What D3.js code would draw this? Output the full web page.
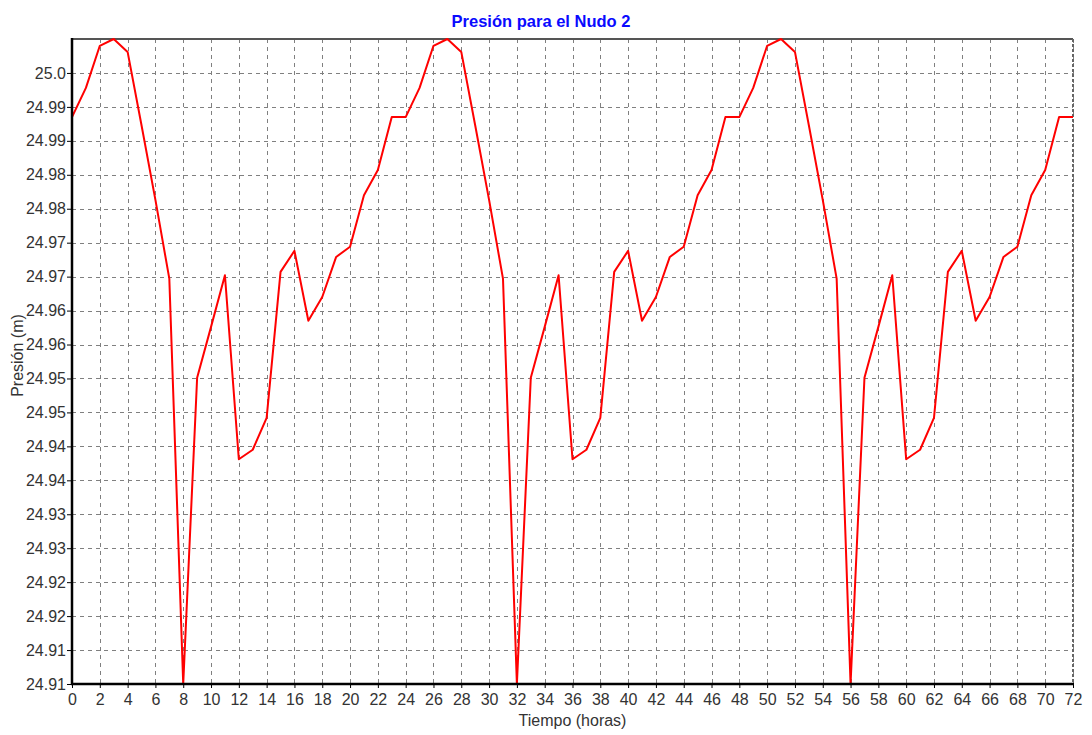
<!DOCTYPE html>
<html>
<head>
<meta charset="utf-8">
<script src="https://cdn.jsdelivr.net/npm/d3@7"></script>
<style>
  html, body { margin: 0; padding: 0; background: #fff; }
  svg { display: block; font-family: "Liberation Sans", Arial, sans-serif; }
</style>
</head>
<body>
<svg id="chart" width="1092" height="735"></svg>
<script>
const title = "Presión para el Nudo 2";
const xTitle = "Tiempo (horas)";
const yTitle = "Presión (m)";

const hours = [0,1,2,3,4,5,6,7,8,9,10,11,12,13,14,15,16,17,18,19,20,21,22,23,24,
  25,26,27,28,29,30,31,32,33,34,35,36,37,38,39,40,41,42,43,44,45,46,47,48,
  49,50,51,52,53,54,55,56,57,58,59,60,61,62,63,64,65,66,67,68,69,70,71,72];

const pressure = [
  24.9935, 24.9978, 25.0040, 25.0050, 25.0031, 24.9923, 24.9813, 24.9697, 24.9100,
  24.9551, 24.9626, 24.9702, 24.9431, 24.9445, 24.9492, 24.9707, 24.9738, 24.9635,
  24.9670, 24.9729, 24.9744, 24.9820, 24.9857, 24.9935,
  24.9935, 24.9978, 25.0040, 25.0050, 25.0031, 24.9923, 24.9813, 24.9697, 24.9100,
  24.9551, 24.9626, 24.9702, 24.9431, 24.9445, 24.9492, 24.9707, 24.9738, 24.9635,
  24.9670, 24.9729, 24.9744, 24.9820, 24.9857, 24.9935,
  24.9935, 24.9978, 25.0040, 25.0050, 25.0031, 24.9923, 24.9813, 24.9697, 24.9100,
  24.9551, 24.9626, 24.9702, 24.9431, 24.9445, 24.9492, 24.9707, 24.9738, 24.9635,
  24.9670, 24.9729, 24.9744, 24.9820, 24.9857, 24.9935,
  24.9935
];

const xTicks = [0,2,4,6,8,10,12,14,16,18,20,22,24,26,28,30,32,34,36,38,40,42,44,46,48,50,52,54,56,58,60,62,64,66,68,70,72];
const yTicks = [24.910,24.915,24.920,24.925,24.930,24.935,24.940,24.945,24.950,24.955,24.960,24.965,24.970,24.975,24.980,24.985,24.990,24.995,25.000];
const yTickLabels = ["24.91","24.91","24.92","24.92","24.93","24.93","24.94","24.94","24.95","24.95","24.96","24.96","24.97","24.97","24.98","24.98","24.99","24.99","25.0"];
const xDomain = [0, 72];
const yDomain = [24.910, 25.005];

const svg = d3.select("#chart");
const W = 1092, H = 735;
const margin = { left: 72, right: 19, top: 39, bottom: 51 };
const pw = W - margin.left - margin.right;
const ph = H - margin.top - margin.bottom;

const x = d3.scaleLinear().domain(xDomain).range([margin.left, margin.left + pw]);
const y = d3.scaleLinear().domain(yDomain).range([margin.top + ph, margin.top]);

// Grid
const grid = svg.append("g").attr("stroke", "#808080").attr("stroke-width", 1)
  .attr("stroke-dasharray", "4,4").attr("shape-rendering", "crispEdges");
grid.selectAll("line.h").data(yTicks).join("line")
  .attr("x1", margin.left).attr("x2", margin.left + pw)
  .attr("y1", d => Math.round(y(d)) + 0.5).attr("y2", d => Math.round(y(d)) + 0.5);
grid.selectAll("line.v").data(xTicks).join("line")
  .attr("y1", margin.top).attr("y2", margin.top + ph)
  .attr("x1", d => Math.round(x(d)) + 0.5).attr("x2", d => Math.round(x(d)) + 0.5);

// top and right frame
svg.append("line").attr("x1", margin.left).attr("x2", margin.left + pw)
  .attr("y1", margin.top).attr("y2", margin.top)
  .attr("stroke", "#555").attr("stroke-width", 2);
svg.append("line").attr("x1", margin.left + pw).attr("x2", margin.left + pw)
  .attr("y1", margin.top).attr("y2", margin.top + ph)
  .attr("stroke", "#666").attr("stroke-width", 2).attr("stroke-dasharray", "3,2");

// y-axis title (drawn behind tick labels)
svg.append("text")
  .attr("transform", `translate(23, ${margin.top + ph / 2 - 6}) rotate(-90)`)
  .attr("text-anchor", "middle")
  .attr("font-size", 16).attr("fill", "#333")
  .text(yTitle);

// Line
svg.append("clipPath").attr("id", "clip").append("rect")
  .attr("x", margin.left).attr("y", margin.top - 2).attr("width", pw).attr("height", ph + 2);
const line = d3.line().x((d, i) => x(hours[i])).y(d => y(d));
svg.append("path").datum(pressure)
  .attr("clip-path", "url(#clip)")
  .attr("fill", "none").attr("stroke", "#ff0000").attr("stroke-width", 2)
  .attr("stroke-linejoin", "round")
  .attr("d", line);

// Axes
const yAxis = d3.axisLeft(y).tickValues(yTicks)
  .tickFormat((d, i) => yTickLabels[i]).tickSize(5).tickPadding(1);
const gy = svg.append("g").attr("transform", `translate(${margin.left},0)`).call(yAxis);
const xAxis = d3.axisBottom(x).tickValues(xTicks).tickFormat(d3.format("d")).tickSize(4).tickPadding(6);
const gx = svg.append("g").attr("transform", `translate(0,${margin.top + ph})`).call(xAxis);

[gx, gy].forEach(g => {
  g.select(".domain").remove();
  g.selectAll(".tick line").attr("stroke", "#000").attr("stroke-width", 1);
  g.selectAll(".tick text").attr("font-size", 16).attr("fill", "#333")
    .attr("font-family", "'Liberation Sans', Arial, sans-serif");
});

// thick left and bottom axes
svg.append("line").attr("x1", margin.left).attr("x2", margin.left)
  .attr("y1", margin.top - 1).attr("y2", margin.top + ph + 1)
  .attr("stroke", "#000").attr("stroke-width", 2.5);
svg.append("line").attr("x1", margin.left - 1).attr("x2", margin.left + pw + 1)
  .attr("y1", margin.top + ph).attr("y2", margin.top + ph)
  .attr("stroke", "#000").attr("stroke-width", 2.5);

// Title
svg.append("text").attr("x", 541).attr("y", 27).attr("text-anchor", "middle")
  .attr("font-size", 16.5).attr("font-weight", "bold").attr("fill", "#0a0aff")
  .text(title);

// x title
svg.append("text").attr("x", margin.left + pw / 2).attr("y", 726).attr("text-anchor", "middle")
  .attr("font-size", 16).attr("fill", "#333")
  .text(xTitle);
</script>
</body>
</html>
